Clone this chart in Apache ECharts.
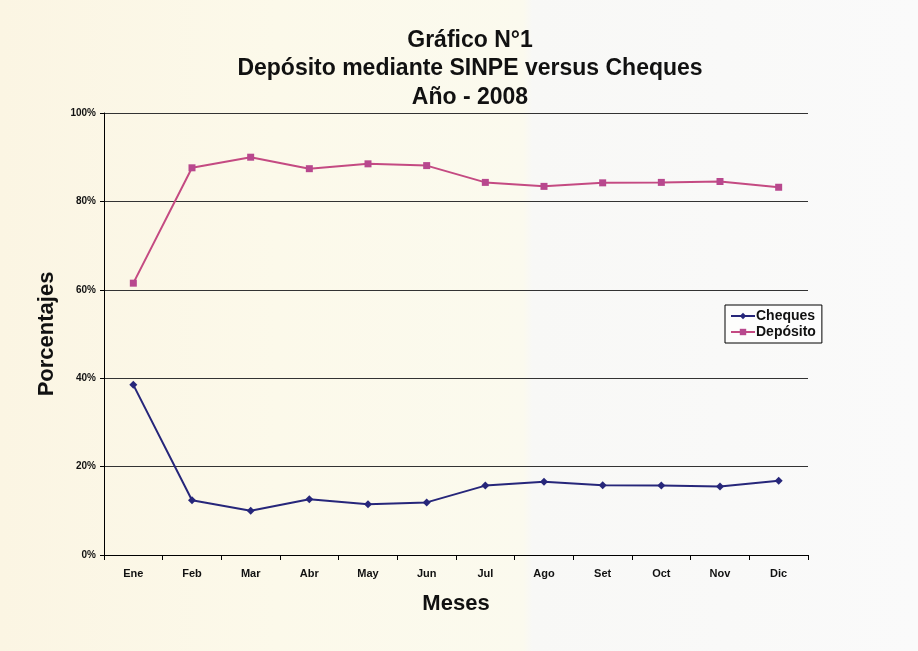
<!DOCTYPE html>
<html>
<head>
<meta charset="utf-8">
<script src="https://cdn.jsdelivr.net/npm/echarts@6/dist/echarts.min.js"></script>
<style>html,body{margin:0;padding:0;background:#fff}#c{width:918px;height:651px}</style>
</head>
<body>
<div id="c"></div>
<script>
const months = ['Ene','Feb','Mar','Abr','May','Jun','Jul','Ago','Set','Oct','Nov','Dic'];
const cheques = [38.5, 12.4, 10.0, 12.6, 11.5, 11.9, 15.7, 16.6, 15.8, 15.7, 15.5, 16.8];
const deposito = [61.5, 87.6, 90.0, 87.4, 88.5, 88.1, 84.3, 83.4, 84.2, 84.3, 84.5, 83.2];
const yTicks = [0, 20, 40, 60, 80, 100];

const FONT = '"Liberation Sans", Arial, sans-serif';
const chart = echarts.init(document.getElementById('c'));
chart.setOption({
  backgroundColor: {
    type: 'linear', x: 0, y: 0, x2: 1, y2: 0,
    colorStops: [
      {offset: 0, color: '#fbf5e3'},
      {offset: 0.3, color: '#fcf9ea'},
      {offset: 0.57, color: '#fbfaee'},
      {offset: 0.58, color: '#f8f8f6'},
      {offset: 1, color: '#fafafa'}
    ]
  },
  animation: false,
  title: {
    text: 'Gráfico N°1\nDepósito mediante SINPE versus Cheques\nAño - 2008',
    left: 465, top: 21, textAlign: 'center',
    textStyle: {fontFamily: FONT, fontSize: 23, fontWeight: 'bold', color: '#111', lineHeight: 28.5}
  },
  legend: {
    orient: 'vertical', left: 725, top: 305,
    data: ['Cheques', 'Depósito'],
    borderColor: '#000', borderWidth: 1, backgroundColor: 'rgba(255,255,255,0.6)',
    padding: [4, 6, 4, 5], itemGap: 2, itemWidth: 24, itemHeight: 8,
    textStyle: {fontFamily: FONT, fontSize: 14, fontWeight: 'bold', color: '#111', padding: [0,0,0,-4]}
  },
  grid: {left: 104, right: 110, top: 113, bottom: 96},
  xAxis: {
    type: 'category', data: months, boundaryGap: true,
    name: 'Meses', nameLocation: 'middle', nameGap: 38,
    nameTextStyle: {fontFamily: FONT, fontSize: 22, fontWeight: 'bold', color: '#111'},
    axisLine: {lineStyle: {color: '#000', width: 1}},
    axisTick: {show: true, length: 5, inside: false, lineStyle: {color: '#000'}},
    axisLabel: {fontFamily: FONT, fontSize: 11, fontWeight: 'bold', color: '#111', margin: 13}
  },
  yAxis: {
    type: 'value', min: yTicks[0], max: yTicks[yTicks.length - 1], interval: 20,
    name: 'Porcentajes', nameLocation: 'middle', nameGap: 46,
    nameTextStyle: {fontFamily: FONT, fontSize: 22, fontWeight: 'bold', color: '#111'},
    axisLine: {show: true, lineStyle: {color: '#000', width: 1}},
    axisTick: {show: true, length: 4, lineStyle: {color: '#000'}},
    axisLabel: {fontFamily: FONT, fontSize: 10, fontWeight: 'bold', color: '#111', margin: 8, formatter: '{value}%'},
    splitLine: {show: true, lineStyle: {color: '#333', width: 1}}
  },
  series: [
    {
      name: 'Cheques', type: 'line', data: cheques,
      symbol: 'diamond', symbolSize: 8,
      lineStyle: {color: '#26267a', width: 2},
      itemStyle: {color: '#26267a'}
    },
    {
      name: 'Depósito', type: 'line', data: deposito,
      symbol: 'rect', symbolSize: 7,
      lineStyle: {color: '#c44a82', width: 2},
      itemStyle: {color: '#b8488e'}
    }
  ]
});
</script>
</body>
</html>
